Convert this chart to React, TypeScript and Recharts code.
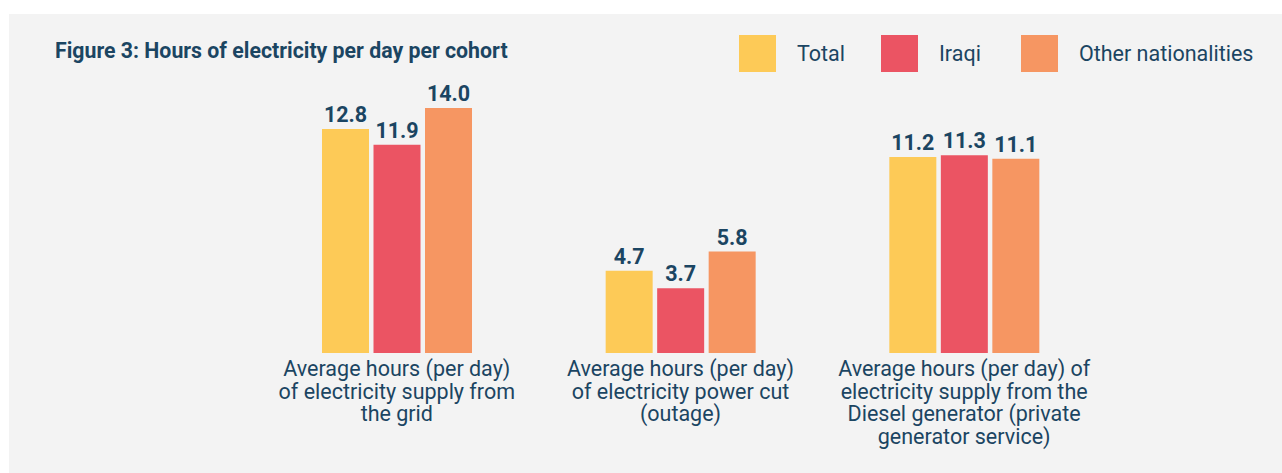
import React from "react";
import { BarChart, Bar, XAxis, YAxis, LabelList } from "recharts";

const categories = ["grid", "outage", "diesel"];
const categoryLabels: string[][] = [
  ["Average hours (per day)", "of electricity supply from", "the grid"],
  ["Average hours (per day)", "of electricity power cut", "(outage)"],
  ["Average hours (per day) of", "electricity supply from the", "Diesel generator (private", "generator service)"],
];
const totalValues = [12.8, 4.7, 11.2];
const iraqiValues = [11.9, 3.7, 11.3];
const otherValues = [14.0, 5.8, 11.1];
const seriesNames = ["Total", "Iraqi", "Other nationalities"];
const title = "Figure 3: Hours of electricity per day per cohort";

const NAVY = "#1b4562";
const COLORS = ["#fdca57", "#eb5463", "#f69662"];
const FONT = "Roboto, 'Noto Sans', sans-serif";
const LEGEND_GAPS = [36, 40, 0];

const data = categories.map((c, i) => ({
  key: c,
  total: totalValues[i],
  iraqi: iraqiValues[i],
  other: otherValues[i],
}));

const CategoryTick = (props: any) => {
  const { x, y, index } = props;
  const lines = categoryLabels[index] || [];
  return (
    <text x={x} y={y} textAnchor="middle" fill={NAVY} fontSize={21.5} fontFamily={FONT}>
      {lines.map((l, i) => (
        <tspan key={i} x={x} y={y + 23 + i * 22.5}>
          {l}
        </tspan>
      ))}
    </text>
  );
};

const fmt = (v: any) => Number(v).toFixed(1);

export default function App() {
  return (
    <div
      style={{
        position: "absolute",
        left: 9,
        top: 14,
        width: 1273,
        height: 459,
        background: "#f3f3f3",
        fontFamily: FONT,
        overflow: "hidden",
      }}
    >
      <div
        style={{
          position: "absolute",
          left: 46,
          top: 25,
          fontSize: 21.3,
          lineHeight: "24px",
          fontWeight: 700,
          color: NAVY,
          whiteSpace: "nowrap",
        }}
      >
        {title}
      </div>
      <div
        style={{
          position: "absolute",
          left: 730,
          top: 21,
          display: "flex",
          alignItems: "center",
          fontFamily: FONT,
        }}
      >
        {seriesNames.map((n, i) => (
          <div key={n} style={{ display: "flex", alignItems: "center", marginRight: LEGEND_GAPS[i] }}>
            <div style={{ width: 37, height: 37, background: COLORS[i], marginRight: 21 }} />
            <span style={{ fontSize: 21.5, color: NAVY, whiteSpace: "nowrap" }}>{n}</span>
          </div>
        ))}
      </div>
      <BarChart
        width={1273}
        height={459}
        data={data}
        margin={{ top: 59, right: 176, left: 246, bottom: 20 }}
        barGap={4.5}
        barSize={47}
      >
        <XAxis
          dataKey="key"
          axisLine={false}
          tickLine={false}
          tickSize={0}
          tickMargin={0}
          height={100}
          interval={0}
          tick={<CategoryTick />}
        />
        <YAxis hide domain={[0, 16]} />
        <Bar dataKey="total" name={seriesNames[0]} fill={COLORS[0]} isAnimationActive={false}>
          <LabelList dataKey="total" position="top" offset={7} fill={NAVY} fontSize={21.5} fontWeight={700} fontFamily={FONT} formatter={fmt} />
        </Bar>
        <Bar dataKey="iraqi" name={seriesNames[1]} fill={COLORS[1]} isAnimationActive={false}>
          <LabelList dataKey="iraqi" position="top" offset={7} fill={NAVY} fontSize={21.5} fontWeight={700} fontFamily={FONT} formatter={fmt} />
        </Bar>
        <Bar dataKey="other" name={seriesNames[2]} fill={COLORS[2]} isAnimationActive={false}>
          <LabelList dataKey="other" position="top" offset={7} fill={NAVY} fontSize={21.5} fontWeight={700} fontFamily={FONT} formatter={fmt} />
        </Bar>
      </BarChart>
    </div>
  );
}
